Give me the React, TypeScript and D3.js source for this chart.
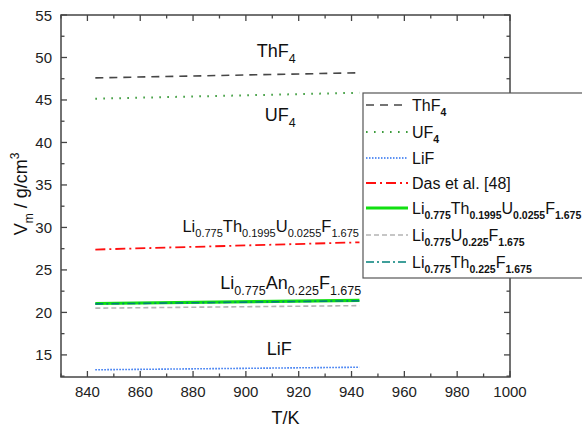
import React from "react";
import * as d3 from "d3";

const temps = [843, 943];
const thf4 = [47.6, 48.2];
const uf4 = [45.15, 45.85];
const lif = [13.25, 13.55];
const das = [27.4, 28.25];
const liThU = [21.05, 21.42];
const liU = [20.5, 20.8];
const liTh = [21.0, 21.37];

const xMajor = [840, 860, 880, 900, 920, 940, 960, 980, 1000];
const yMajor = [15, 20, 25, 30, 35, 40, 45, 50, 55];

type Seg = [string, "n" | "sub" | "sup"];

const seriesDefs = [
  { name: "ThF4", label: [["ThF", "n"], ["4", "sub"]] as Seg[], values: thf4, color: "#474747", width: 1.6, dash: "8,6" },
  { name: "UF4", label: [["UF", "n"], ["4", "sub"]] as Seg[], values: uf4, color: "#3c9c3c", width: 2, dash: "1.6,6.4" },
  { name: "LiF", label: [["LiF", "n"]] as Seg[], values: lif, color: "#2a6ff0", width: 1.6, dash: "1.5,1.5" },
  { name: "Das", label: [["Das et al. [48]", "n"]] as Seg[], values: das, color: "#ff1010", width: 1.8, dash: "10,4,2,4" },
  { name: "LiThU", label: [["Li", "n"], ["0.775", "sub"], ["Th", "n"], ["0.1995", "sub"], ["U", "n"], ["0.0255", "sub"], ["F", "n"], ["1.675", "sub"]] as Seg[], values: liThU, color: "#11e011", width: 3.2, dash: "" },
  { name: "LiU", label: [["Li", "n"], ["0.775", "sub"], ["U", "n"], ["0.225", "sub"], ["F", "n"], ["1.675", "sub"]] as Seg[], values: liU, color: "#b4b4b4", width: 1.6, dash: "5,3" },
  { name: "LiTh", label: [["Li", "n"], ["0.775", "sub"], ["Th", "n"], ["0.225", "sub"], ["F", "n"], ["1.675", "sub"]] as Seg[], values: liTh, color: "#00807a", width: 1.6, dash: "8,3,2,3" },
];

const drawOrder = ["ThF4", "UF4", "LiF", "Das", "LiU", "LiThU", "LiTh"];

const annotations = [
  { T: 911.5, V: 50.05, anchor: "middle", size: 18, sub: 12.5, label: [["ThF", "n"], ["4", "sub"]] as Seg[] },
  { T: 913, V: 42.5, anchor: "middle", size: 18, sub: 12.5, label: [["UF", "n"], ["4", "sub"]] as Seg[] },
  { T: 942.8, V: 29.5, anchor: "end", size: 16.5, sub: 11, label: [["Li", "n"], ["0.775", "sub"], ["Th", "n"], ["0.1995", "sub"], ["U", "n"], ["0.0255", "sub"], ["F", "n"], ["1.675", "sub"]] as Seg[] },
  { T: 917, V: 22.76, anchor: "middle", size: 18, sub: 12.5, label: [["Li", "n"], ["0.775", "sub"], ["An", "n"], ["0.225", "sub"], ["F", "n"], ["1.675", "sub"]] as Seg[] },
  { T: 912.6, V: 15.0, anchor: "middle", size: 18, sub: 12.5, label: [["LiF", "n"]] as Seg[] },
];

const FONT = "'Liberation Sans', Arial, sans-serif";

function RichText({ segs, x, y, size, subSize, anchor, subWeight }: { segs: Seg[]; x: number; y: number; size: number; subSize: number; anchor: string; subWeight?: number }) {
  let cur = 0;
  const parts: React.ReactNode[] = [];
  segs.forEach((s, i) => {
    const target = s[1] === "sub" ? size * 0.33 : s[1] === "sup" ? -size * 0.42 : 0;
    const dy = target - cur;
    cur = target;
    parts.push(
      <tspan key={i} dy={dy} fontSize={s[1] === "n" ? size : subSize} fontWeight={s[1] === "n" ? 400 : subWeight || 400}>
        {s[0]}
      </tspan>
    );
  });
  return (
    <text x={x} y={y} textAnchor={anchor as any} fontFamily={FONT} fill="#111">
      {parts}
    </text>
  );
}

export default function App() {
  const W = 582, H = 429;
  const L = 61, R = 510, T = 15, B = 377;
  const x = d3.scaleLinear().domain([830, 1000]).range([L, R]);
  const y = d3.scaleLinear().domain([12.4, 55]).range([B, T]);
  const xMinor = d3.range(830, 1001, 10).filter((v) => !xMajor.includes(v));
  const yMinor = d3.range(12.5, 55.01, 2.5).filter((v) => !yMajor.includes(v));
  const line = d3.line<[number, number]>().x((d) => x(d[0])).y((d) => y(d[1]));
  const axisColor = "#444";
  const maj = 6, mnr = 3.5;

  const legX = 363, legY = 93, legH = 185;
  const rowY = [105, 132, 158, 183, 208, 235, 262];

  return (
    <svg width={W} height={H} style={{ position: "absolute", left: 0, top: 0, background: "#fff" }}>
      <rect x={0} y={0} width={W} height={H} fill="#fff" />
      <rect x={L} y={T} width={R - L} height={B - T} fill="none" stroke={axisColor} strokeWidth={1.5} />
      <g stroke={axisColor} strokeWidth={1.3}>
        {xMajor.map((v) => (
          <g key={"xm" + v}>
            <line x1={x(v)} x2={x(v)} y1={B} y2={B - maj} />
            <line x1={x(v)} x2={x(v)} y1={T} y2={T + maj} />
          </g>
        ))}
        {xMinor.map((v) => (
          <g key={"xn" + v}>
            <line x1={x(v)} x2={x(v)} y1={B} y2={B - mnr} />
            <line x1={x(v)} x2={x(v)} y1={T} y2={T + mnr} />
          </g>
        ))}
        {yMajor.map((v) => (
          <g key={"ym" + v}>
            <line x1={L} x2={L + maj} y1={y(v)} y2={y(v)} />
            <line x1={R} x2={R - maj} y1={y(v)} y2={y(v)} />
          </g>
        ))}
        {yMinor.map((v) => (
          <g key={"yn" + v}>
            <line x1={L} x2={L + mnr} y1={y(v)} y2={y(v)} />
            <line x1={R} x2={R - mnr} y1={y(v)} y2={y(v)} />
          </g>
        ))}
      </g>
      <g fontFamily={FONT} fontSize={15} fill="#222">
        {xMajor.map((v) => (
          <text key={"xl" + v} x={x(v)} y={397} textAnchor="middle">{v}</text>
        ))}
        {yMajor.map((v) => (
          <text key={"yl" + v} x={52} y={y(v) + 5.5} textAnchor="end">{v}</text>
        ))}
      </g>
      <text x={(L + R) / 2} y={424} textAnchor="middle" fontFamily={FONT} fontSize={18} fill="#111">T/K</text>
      <g transform="translate(27,194) rotate(-90)">
        <RichText segs={[["V", "n"], ["m", "sub"], [" / g/cm", "n"], ["3", "sup"]]} x={0} y={0} size={18} subSize={12} anchor="middle" />
      </g>
      {drawOrder.map((n) => {
        const s = seriesDefs.find((d) => d.name === n)!;
        const pts = temps.map((t, i) => [t, s.values[i]] as [number, number]);
        return (
          <path key={n} d={line(pts) || ""} fill="none" stroke={s.color} strokeWidth={s.width} strokeDasharray={s.dash || undefined} />
        );
      })}
      {annotations.map((a, i) => (
        <RichText key={i} segs={a.label} x={x(a.T)} y={y(a.V)} size={a.size} subSize={a.sub} anchor={a.anchor} />
      ))}
      <rect x={legX} y={legY} width={300} height={legH} fill="#fff" stroke="#555" strokeWidth={1.2} />
      {seriesDefs.map((s, i) => (
        <g key={"lg" + s.name}>
          <line x1={legX + 3} x2={legX + 45} y1={rowY[i]} y2={rowY[i]} stroke={s.color} strokeWidth={s.width} strokeDasharray={s.dash || undefined} />
          <RichText segs={s.label} x={legX + 49} y={rowY[i] + 6} size={16} subSize={10.5} anchor="start" subWeight={700} />
        </g>
      ))}
    </svg>
  );
}
